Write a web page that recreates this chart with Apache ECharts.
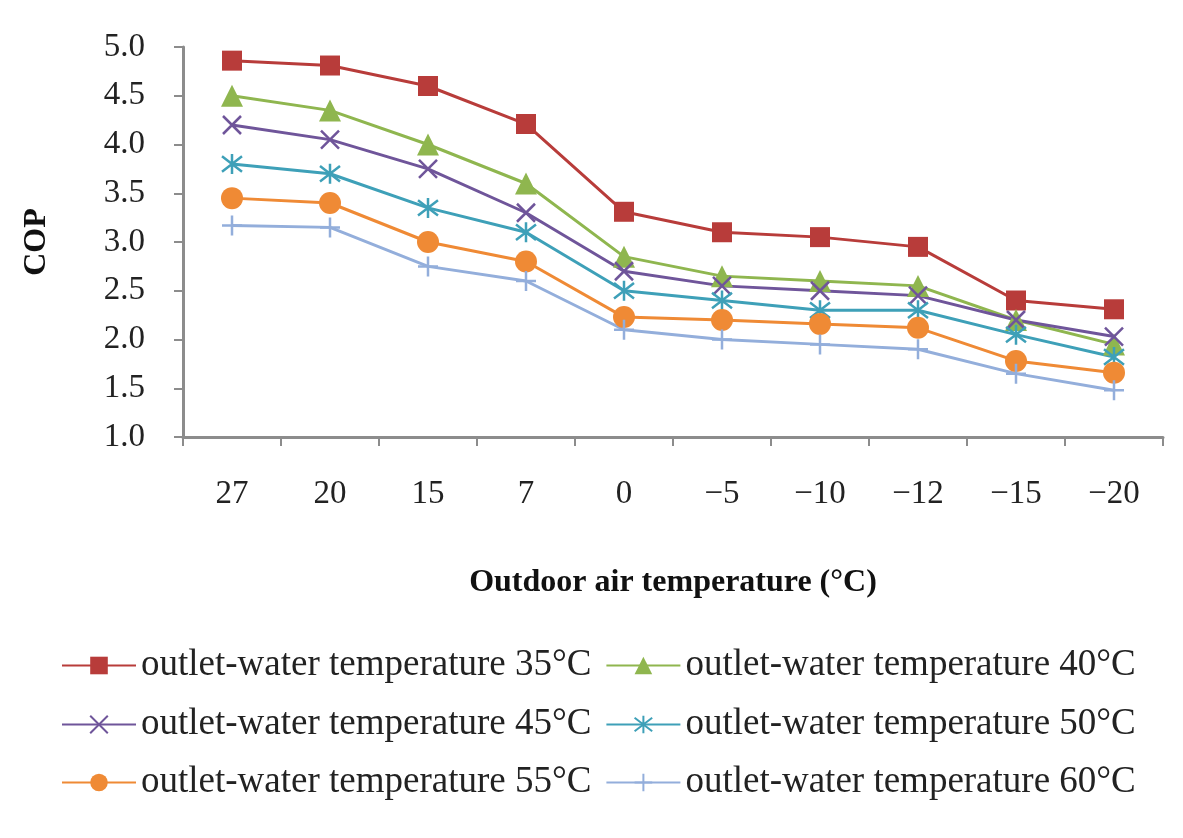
<!DOCTYPE html>
<html>
<head>
<meta charset="utf-8">
<script src="https://cdn.jsdelivr.net/npm/echarts@6/dist/echarts.min.js"></script>
<style>
  html, body { margin: 0; padding: 0; background: #fff; }
  #chart { width: 1183px; height: 838px; }
</style>
</head>
<body>
<div id="chart"></div>
<script>
// outdoor air temperature categories (°C)
var temps = ['27', '20', '15', '7', '0', '\u22125', '\u221210', '\u221212', '\u221215', '\u221220'];

// COP values per outlet-water temperature
var cop35 = [4.86, 4.81, 4.60, 4.21, 3.31, 3.10, 3.05, 2.95, 2.40, 2.31];
var cop40 = [4.50, 4.35, 4.00, 3.60, 2.85, 2.65, 2.60, 2.55, 2.20, 1.95];
var cop45 = [4.20, 4.05, 3.75, 3.30, 2.70, 2.55, 2.50, 2.45, 2.20, 2.03];
var cop50 = [3.80, 3.70, 3.35, 3.10, 2.50, 2.40, 2.30, 2.30, 2.05, 1.82];
var cop55 = [3.45, 3.40, 3.00, 2.80, 2.23, 2.20, 2.16, 2.12, 1.78, 1.66];
var cop60 = [3.17, 3.15, 2.75, 2.60, 2.10, 2.00, 1.95, 1.90, 1.65, 1.48];

var names = [
    'outlet-water temperature 35\u00b0C',
    'outlet-water temperature 40\u00b0C',
    'outlet-water temperature 45\u00b0C',
    'outlet-water temperature 50\u00b0C',
    'outlet-water temperature 55\u00b0C',
    'outlet-water temperature 60\u00b0C'
];

var serif = '"Liberation Serif", "Times New Roman", serif';

var crossPath = 'path://M0,0L10,10M10,0L0,10';
var starPath = 'path://M0,0L10,10M10,0L0,10M5,-1.5L5,11.5';
var plusPath = 'path://M5,0L5,10M0,5L10,5';

function makeSeries(name, data, color, symbol, size, stroked) {
    return {
        name: name,
        type: 'line',
        data: data,
        symbol: symbol,
        symbolSize: size,
        lineStyle: { color: color, width: 3 },
        itemStyle: {
            color: color,
            borderColor: color,
            borderWidth: stroked ? 2.5 : 0
        },
        emphasis: { disabled: true }
    };
}

var legendText = { fontFamily: serif, fontSize: 37, color: '#222' };

function rowLegend(top, pair) {
    return {
        left: 56,
        top: top,
        itemWidth: 74,
        itemHeight: 22,
        itemGap: 14,
        textStyle: legendText,
        data: pair
    };
}

var myChart = echarts.init(document.getElementById('chart'));

var option = {
    backgroundColor: '#fff',
    animation: false,
    grid: {
        left: 183,
        right: 20,
        top: 47,
        bottom: 401
    },
    legend: [
        rowLegend(642, [names[0], names[1]]),
        rowLegend(701, [names[2], names[3]]),
        rowLegend(759, [names[4], names[5]])
    ],
    xAxis: {
        type: 'category',
        data: temps,
        boundaryGap: true,
        name: 'Outdoor air temperature (\u00b0C)',
        nameLocation: 'middle',
        nameGap: 130,
        nameTextStyle: { fontFamily: serif, fontSize: 32, fontWeight: 'bold', color: '#111' },
        axisLine: { lineStyle: { color: '#8c8c8c', width: 3 } },
        axisTick: { show: true, length: 9, lineStyle: { color: '#8c8c8c', width: 2 } },
        axisLabel: { fontFamily: serif, fontSize: 33, color: '#222', margin: 41 }
    },
    yAxis: {
        type: 'value',
        min: 1.0,
        max: 5.0,
        interval: 0.5,
        name: 'COP',
        nameLocation: 'middle',
        nameGap: 130,
        nameTextStyle: { fontFamily: serif, fontSize: 32, fontWeight: 'bold', color: '#111' },
        axisLine: { show: true, lineStyle: { color: '#8c8c8c', width: 3 } },
        axisTick: { show: true, length: 9, lineStyle: { color: '#8c8c8c', width: 2 } },
        splitLine: { show: false },
        axisLabel: {
            fontFamily: serif,
            fontSize: 33,
            color: '#222',
            margin: 38,
            formatter: function (v) { return v.toFixed(1); }
        }
    },
    series: [
        makeSeries(names[0], cop35, '#b83c3a', 'rect', 20, false),
        makeSeries(names[1], cop40, '#8fb64f', 'triangle', 22, false),
        makeSeries(names[2], cop45, '#6f559a', crossPath, 18, true),
        makeSeries(names[3], cop50, '#3ea0b8', starPath, 20, true),
        makeSeries(names[4], cop55, '#ef8a35', 'circle', 22, false),
        makeSeries(names[5], cop60, '#93aedb', plusPath, 20, true)
    ]
};

myChart.setOption(option);
window.addEventListener('resize', function () {
    myChart.resize();
});
</script>
</body>
</html>
